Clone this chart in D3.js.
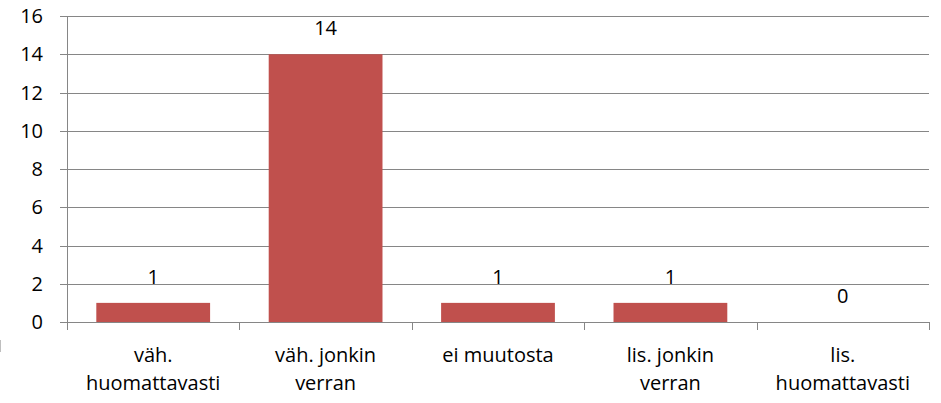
<!DOCTYPE html>
<html>
<head>
<meta charset="utf-8">
<script src="https://cdn.jsdelivr.net/npm/d3@7"></script>
<style>
  body { margin: 0; background: #fff; }
  text { font-family: "Open Sans", "Liberation Sans", sans-serif; fill: #000; }
</style>
</head>
<body>
<svg id="chart" width="941" height="403"></svg>
<script>
var categories = [["väh.", "huomattavasti"], ["väh. jonkin", "verran"], ["ei muutosta"], ["lis. jonkin", "verran"], ["lis.", "huomattavasti"]];
var values = [1, 14, 1, 1, 0];
var yTicks = [0, 2, 4, 6, 8, 10, 12, 14, 16];

var margin = {top: 16, right: 12, bottom: 81, left: 67};
var width = 941 - margin.left - margin.right,
    height = 403 - margin.top - margin.bottom;

var svg = d3.select("#chart")
    .append("g")
    .attr("transform", "translate(" + margin.left + "," + margin.top + ")");

var keys = categories.map(function (d, i) { return i; });

var x = d3.scaleBand()
    .domain(keys)
    .range([0, width])
    .paddingInner(0.34)
    .paddingOuter(0.17);

var xCat = d3.scaleBand()
    .domain(keys)
    .range([0, width]);

var y = d3.scaleLinear()
    .domain([0, 16])
    .range([height, 0]);

// gridlines
svg.selectAll(".grid")
    .data(yTicks)
    .enter()
    .append("line")
    .attr("x1", -7)
    .attr("x2", width)
    .attr("y1", function (d) { return Math.round(y(d)) + 0.5; })
    .attr("y2", function (d) { return Math.round(y(d)) + 0.5; })
    .attr("stroke", "#868686")
    .attr("stroke-width", 1);

// y axis line
svg.append("line")
    .attr("x1", 0.5).attr("x2", 0.5)
    .attr("y1", 0).attr("y2", height)
    .attr("stroke", "#868686");

// y tick labels
svg.selectAll(".ylab")
    .data(yTicks)
    .enter()
    .append("text")
    .attr("x", -24)
    .attr("y", function (d) { return y(d); })
    .attr("dy", "0.36em")
    .attr("text-anchor", "end")
    .style("font-size", "20px")
    .text(function (d) { return d; });

// x ticks at category boundaries
var bounds = keys.map(function (k) { return xCat(k); }).concat([width]);
svg.selectAll(".xtick")
    .data(bounds)
    .enter()
    .append("line")
    .attr("x1", function (d) { return Math.round(d) + 0.5; })
    .attr("x2", function (d) { return Math.round(d) + 0.5; })
    .attr("y1", height)
    .attr("y2", height + 8)
    .attr("stroke", "#868686");

// bars
svg.selectAll(".bar")
    .data(values)
    .enter()
    .append("rect")
    .attr("x", function (d, i) { return x(i); })
    .attr("width", x.bandwidth())
    .attr("y", function (d) { return y(d); })
    .attr("height", function (d) { return height - y(d); })
    .attr("fill", "#C0504D");

// value labels
svg.selectAll(".val")
    .data(values)
    .enter()
    .append("text")
    .attr("x", function (d, i) { return x(i) + x.bandwidth() / 2; })
    .attr("y", function (d) { return y(d) - 26; })
    .attr("dy", "0.36em")
    .attr("text-anchor", "middle")
    .style("font-size", "20px")
    .text(function (d) { return d; });

// category labels
var cl = svg.selectAll(".cat")
    .data(categories)
    .enter()
    .append("text")
    .attr("text-anchor", "middle")
    .style("font-size", "20px")
    .attr("transform", function (d, i) {
        return "translate(" + (xCat(i) + xCat.bandwidth() / 2) + "," + (height + 40) + ")";
    });
cl.selectAll("tspan")
    .data(function (d) { return d; })
    .enter()
    .append("tspan")
    .attr("x", 0)
    .attr("dy", function (d, i) { return i === 0 ? 0 : 28; })
    .text(function (d) { return d; });

// leftover border fragment at the left edge
d3.select("#chart").append("line")
    .attr("x1", 0.5).attr("x2", 0.5)
    .attr("y1", 340).attr("y2", 352)
    .attr("stroke", "#bfbfbf");
</script>
</body>
</html>
